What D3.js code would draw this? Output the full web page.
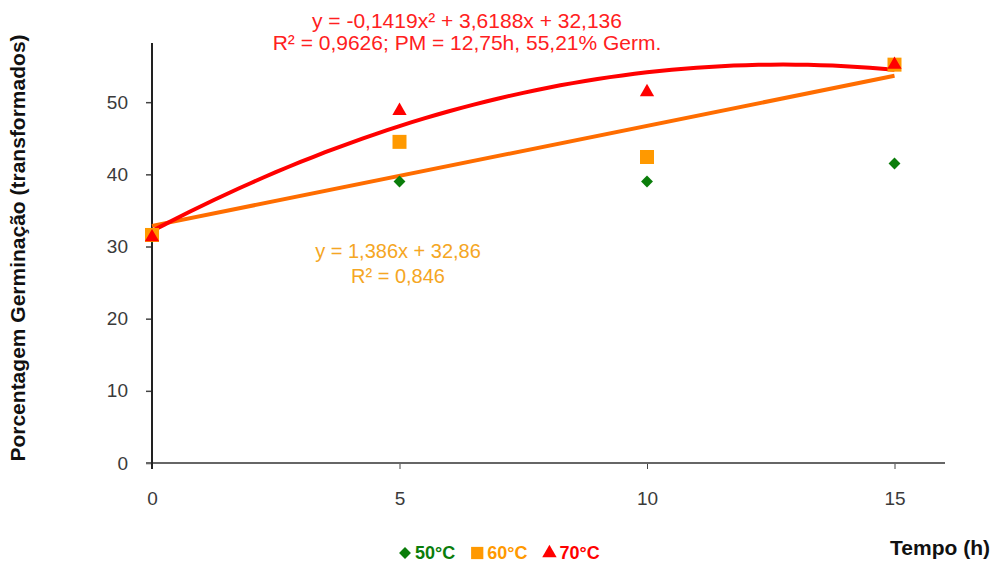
<!DOCTYPE html>
<html lang="en">
<head>
    <meta charset="UTF-8">
    <script src="https://cdnjs.cloudflare.com/ajax/libs/d3/7.8.5/d3.min.js"></script>
    <style>
        body { margin: 0; background: #fff; }
        svg { font-family: "Liberation Sans", Arial, sans-serif; }
        .tick text { font-size: 19px; fill: #3a3a3a; }
    </style>
</head>
<body>
<svg id="chart" width="991" height="564"></svg>
<script>
    // data
    const hours = [0, 5, 10, 15];
    const germ50 = [31.3, 39.0, 39.0, 41.5];
    const germ60 = [31.6, 44.5, 42.4, 55.2];
    const germ70 = [31.3, 48.8, 51.4, 55.2];
    const yTicks = [0, 10, 20, 30, 40, 50];
    const xTicks = [0, 5, 10, 15];
    // trend line coefficients as printed on the chart
    const quad70 = [-0.1419, 3.6188, 32.136];
    const lin60 = [1.386, 32.86];

    const svg = d3.select("#chart");
    const x = d3.scaleLinear().domain([0, 16]).range([152, 944]);
    const y = d3.scaleLinear().domain([0, 58.2]).range([463, 43]);

    // axes
    const yAxis = svg.append("g")
        .attr("transform", "translate(152,0)")
        .call(d3.axisLeft(y).tickValues(yTicks).tickSize(6).tickPadding(18));
    yAxis.select(".domain").remove();
    yAxis.selectAll(".tick line").attr("stroke", "#444").attr("stroke-width", 1.5);

    const xAxis = svg.append("g")
        .attr("transform", "translate(0,463)")
        .call(d3.axisBottom(x).tickValues(xTicks).tickSize(6).tickPadding(23));
    xAxis.select(".domain").remove();
    xAxis.selectAll(".tick line").attr("stroke", "#444").attr("stroke-width", 1);

    svg.append("line")
        .attr("x1", 146).attr("x2", 945)
        .attr("y1", 463).attr("y2", 463)
        .attr("stroke", "#666").attr("stroke-width", 2);
    svg.append("line")
        .attr("x1", 152).attr("x2", 152)
        .attr("y1", 43).attr("y2", 469)
        .attr("stroke", "#222").attr("stroke-width", 2);

    // trend lines
    const fine = d3.range(0, 15.01, 0.25);
    const line = d3.line().x(d => x(d[0])).y(d => y(d[1]));
    svg.append("path")
        .datum([[0, lin60[1]], [15, lin60[0] * 15 + lin60[1]]])
        .attr("d", line)
        .attr("fill", "none").attr("stroke", "#ff6d00").attr("stroke-width", 4);
    svg.append("path")
        .datum(fine.map(t => [t, quad70[0] * t * t + quad70[1] * t + quad70[2]]))
        .attr("d", line)
        .attr("fill", "none").attr("stroke", "#ff0000").attr("stroke-width", 4);

    // markers
    const series = [
        {name: "50°C", values: germ50, color: "#0a7d0a", shape: d3.symbolDiamond2, size: 90},
        {name: "60°C", values: germ60, color: "#ff9900", shape: d3.symbolSquare, size: 196},
        {name: "70°C", values: germ70, color: "#ff0000", shape: d3.symbolTriangle, size: 88}
    ];
    series.forEach(s => {
        svg.append("g").selectAll("path")
            .data(s.values)
            .join("path")
            .attr("transform", (d, i) => `translate(${x(hours[i])},${y(d)})`)
            .attr("d", d3.symbol().type(s.shape).size(s.size))
            .attr("fill", s.color);
    });

    // equations
    const eqRed = svg.append("text")
        .attr("text-anchor", "middle").attr("fill", "#ff2020").style("font-size", "21px");
    eqRed.append("tspan").attr("x", 467).attr("y", 28).text("y = -0,1419x² + 3,6188x + 32,136");
    eqRed.append("tspan").attr("x", 467).attr("y", 50).text("R² = 0,9626; PM = 12,75h, 55,21% Germ.");

    const eqOrange = svg.append("text")
        .attr("text-anchor", "middle").attr("fill", "#f5a623").style("font-size", "20px");
    eqOrange.append("tspan").attr("x", 398).attr("y", 258).text("y = 1,386x + 32,86");
    eqOrange.append("tspan").attr("x", 398).attr("y", 283).text("R² = 0,846");

    // axis titles
    svg.append("text")
        .attr("transform", "translate(25,248) rotate(-90)")
        .attr("text-anchor", "middle")
        .style("font-size", "21px").style("font-weight", "bold").attr("fill", "#111")
        .text("Porcentagem Germinação (transformados)");
    svg.append("text")
        .attr("x", 990).attr("y", 555).attr("text-anchor", "end")
        .style("font-size", "21px").style("font-weight", "bold").attr("fill", "#111")
        .text("Tempo (h)");

    // legend
    const legend = svg.append("g").attr("transform", "translate(0,559)");
    let cx = 405;
    series.forEach(s => {
        legend.append("path")
            .attr("transform", `translate(${cx},-6)`)
            .attr("d", d3.symbol().type(s.shape).size(s.shape === d3.symbolSquare ? 150 : 90))
            .attr("fill", s.color);
        const t = legend.append("text")
            .attr("x", cx + 10).attr("y", 0)
            .style("font-size", "18px").style("font-weight", "bold").attr("fill", s.color)
            .text(s.name);
        cx += 10 + t.node().getComputedTextLength() + 22;
    });
</script>
</body>
</html>
